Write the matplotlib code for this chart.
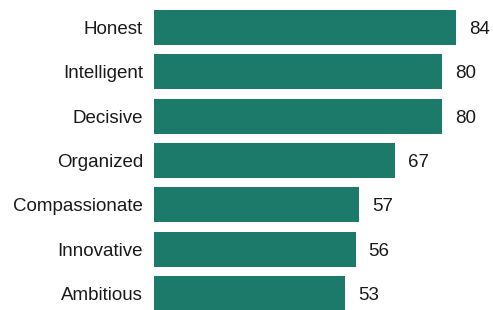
import matplotlib
matplotlib.use('Agg')
import matplotlib.pyplot as plt

# traits and share of respondents
traits = ['Honest', 'Intelligent', 'Decisive', 'Organized',
          'Compassionate', 'Innovative', 'Ambitious']
values = [84, 80, 80, 67, 57, 56, 53]

BAR_COLOR = '#1b7a69'
TEXT_COLOR = '#1a1a1a'

plt.rcParams['font.family'] = ['Liberation Sans', 'DejaVu Sans']

fig = plt.figure(figsize=(4.93, 3.10), dpi=100)
ax = fig.add_axes([154 / 493, 0, 339 / 493, 1])

pos = range(len(traits))
ax.barh(pos, values, height=0.79, color=BAR_COLOR)

for y, v in zip(pos, values):
    ax.text(v + 3.6, y, str(v), va='center_baseline', ha='left',
            fontsize=13.5, color=TEXT_COLOR)

ax.set_xlim(0, 339 / 3.6)
ax.set_ylim(6.37, -0.62)
ax.set_yticks(list(pos))
ax.set_yticklabels(traits, fontsize=13.5, color=TEXT_COLOR)
ax.tick_params(axis='y', length=0, pad=8)
ax.set_xticks([])
for s in ax.spines.values():
    s.set_visible(False)

fig.savefig('out.png', dpi=100)
